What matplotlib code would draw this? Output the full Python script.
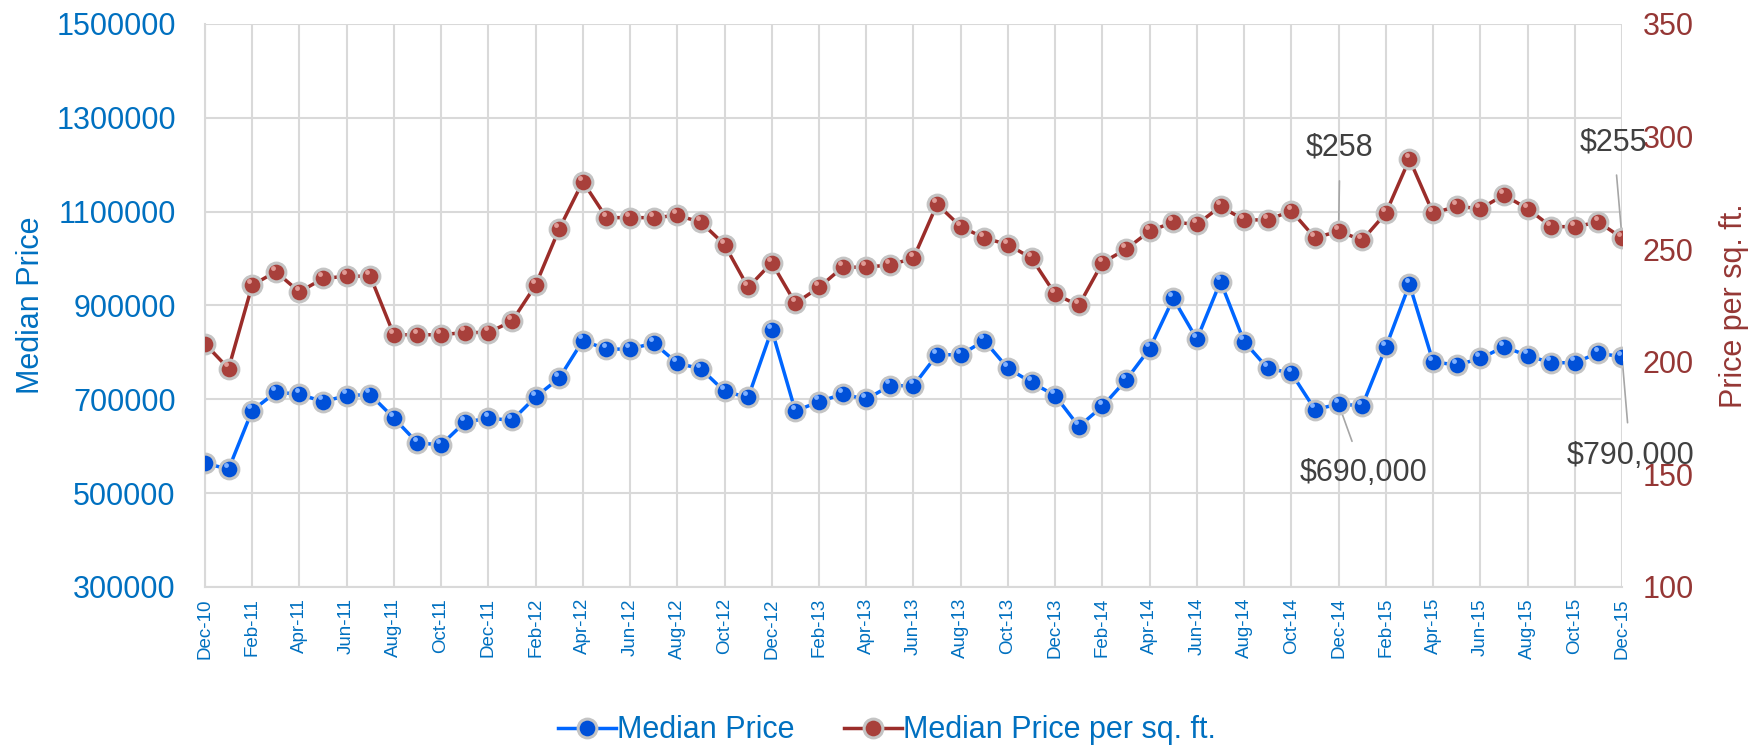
import numpy as np
import matplotlib
matplotlib.use("Agg")
import matplotlib.pyplot as plt

plt.rcParams['font.family'] = ['Liberation Sans', 'DejaVu Sans']

# monthly data Dec-10 .. Dec-15
months = ['Dec-10', 'Jan-11', 'Feb-11', 'Mar-11', 'Apr-11', 'May-11', 'Jun-11', 'Jul-11',
          'Aug-11', 'Sep-11', 'Oct-11', 'Nov-11', 'Dec-11', 'Jan-12', 'Feb-12', 'Mar-12',
          'Apr-12', 'May-12', 'Jun-12', 'Jul-12', 'Aug-12', 'Sep-12', 'Oct-12', 'Nov-12',
          'Dec-12', 'Jan-13', 'Feb-13', 'Mar-13', 'Apr-13', 'May-13', 'Jun-13', 'Jul-13',
          'Aug-13', 'Sep-13', 'Oct-13', 'Nov-13', 'Dec-13', 'Jan-14', 'Feb-14', 'Mar-14',
          'Apr-14', 'May-14', 'Jun-14', 'Jul-14', 'Aug-14', 'Sep-14', 'Oct-14', 'Nov-14',
          'Dec-14', 'Jan-15', 'Feb-15', 'Mar-15', 'Apr-15', 'May-15', 'Jun-15', 'Jul-15',
          'Aug-15', 'Sep-15', 'Oct-15', 'Nov-15', 'Dec-15']

median_price = [564000, 551000, 676000, 715000, 711000, 695000, 708000, 710000,
                660000, 607000, 603000, 651000, 660000, 655000, 705000, 745000,
                825000, 807000, 807000, 820000, 777000, 765000, 717000, 704000,
                848000, 675000, 695000, 711000, 700000, 729000, 729000, 795000,
                795000, 825000, 766000, 736000, 708000, 642000, 685000, 741000,
                808000, 915000, 828000, 951000, 823000, 766000, 756000, 678000,
                690000, 686000, 811000, 945000, 780000, 773000, 787000, 812000,
                793000, 778000, 778000, 799000, 790000]

price_sqft = [208, 197, 234, 240, 231, 237, 238, 238,
              212, 212, 212, 213, 213, 218, 234, 259,
              280, 264, 264, 264, 265, 262, 252, 233,
              244, 226, 233, 242, 242, 243, 246, 270,
              260, 255, 252, 246, 230, 225, 244, 250,
              258, 262, 261, 269, 263, 263, 267, 255,
              258, 254, 266, 290, 266, 269, 268, 274,
              268, 260, 260, 262, 255]

x = np.arange(len(months))

blue = '#0070C0'
red = '#953735'

fig = plt.figure(figsize=(17.56, 7.49), dpi=100)
ax = fig.add_axes([0.1167, 0.2163, 0.807, 0.7517])
ax2 = ax.twinx()

# blue series
ax.plot(x, median_price, '-', color='#0066ff', lw=2.5, zorder=3)
ax.plot(x, median_price, 'o', ms=13.5, mfc='#0050d8', mec='#c4c4c4', mew=2.2, zorder=4)
ax.plot(x - 0.12, np.array(median_price) + 9000, 'o', ms=3.5, mfc='#7fb0ff', mec='none', zorder=5)

# red series
ax2.plot(x, price_sqft, '-', color='#9b2d2a', lw=2.5, zorder=3)
ax2.plot(x, price_sqft, 'o', ms=13.5, mfc='#a8403b', mec='#c4c4c4', mew=2.2, zorder=4)
ax2.plot(x - 0.12, np.array(price_sqft) + 1.8, 'o', ms=3.5, mfc='#e09a95', mec='none', zorder=5)

ax.set_xlim(0, 60)
ax.set_ylim(300000, 1500000)
ax2.set_ylim(100, 350)

ax.set_yticks(np.arange(300000, 1500001, 200000))
ax.ticklabel_format(axis='y', style='plain', useOffset=False)
ax2.set_yticks(np.arange(100, 351, 50))
ax.set_xticks(x[::2])
ax.set_xticklabels(months[::2], rotation=90)

ax.grid(True, color='#d9d9d9', lw=1.5)
ax.set_axisbelow(True)
for s in ['top', 'right']:
    ax.spines[s].set_visible(False)
for s in ax2.spines.values():
    s.set_visible(False)
ax.spines['left'].set_color('#d9d9d9')
ax.spines['bottom'].set_color('#d9d9d9')
ax.spines['left'].set_linewidth(1.5)
ax.spines['bottom'].set_linewidth(1.5)

ax.tick_params(axis='y', length=0, pad=21, labelsize=22, labelcolor=blue)
ax.tick_params(axis='x', length=0, pad=8, labelsize=13.5, labelcolor=blue)
ax2.tick_params(axis='y', length=0, pad=15, labelsize=22, labelcolor=red)

ax.set_ylabel('Median Price', color=blue, fontsize=22, labelpad=7)
ax2.set_ylabel('Price per sq. ft.', color=red, fontsize=22, labelpad=18)

# data labels
ann = dict(fontsize=22, color='#404040', ha='center', va='center', textcoords='offset points',
           arrowprops=dict(arrowstyle='-', color='#a6a6a6', lw=1.2, shrinkA=11, shrinkB=3))
ax2.annotate('$258', xy=(48, price_sqft[48]), xytext=(1, 60), **ann)
ax.annotate('$690,000', xy=(48, median_price[48]), xytext=(18, -50), **ann)
ax2.annotate('$255', xy=(60, price_sqft[60]), xytext=(-6, 69), **ann)
ax.annotate('$790,000', xy=(60, median_price[60]), xytext=(6, -71), **ann)

# legend
h1, = ax.plot([], [], '-o', color='#0066ff', lw=2.5, ms=13.5, mfc='#0050d8', mec='#c4c4c4', mew=2.2)
h2, = ax.plot([], [], '-o', color='#9b2d2a', lw=2.5, ms=13.5, mfc='#a8403b', mec='#c4c4c4', mew=2.2)
leg = fig.legend([h1, h2], ['Median Price', 'Median Price per sq. ft.'], loc='center',
                 bbox_to_anchor=(0.505, 0.025), ncol=2, frameon=False, fontsize=22,
                 handlelength=1.9, handletextpad=0.05, columnspacing=1.6)
for t in leg.get_texts():
    t.set_color(blue)

fig.savefig('out.png', dpi=100)
